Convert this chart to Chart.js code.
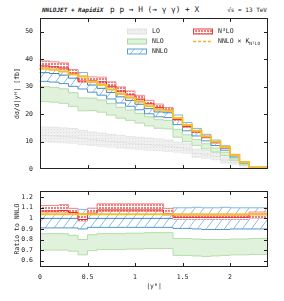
<!DOCTYPE html>
<html>
<head>
<meta charset="utf-8">
<script src="https://cdn.jsdelivr.net/npm/chart.js@4"></script>
<style>
  body { margin: 0; background: #fff; width: 284px; height: 301px; position: relative; overflow: hidden; font-family: "DejaVu Sans Mono", monospace; }
  canvas { position: absolute; left: 0; }
  #top { top: 0; }
  #bottom { top: 180px; }
  .hdr { position: absolute; top: 5px; color: #222; white-space: nowrap; line-height: 10px; }
</style>
</head>
<body>
<div class="hdr" style="left:42px; font-size:6px; font-weight:bold; font-style:italic;">NNLOJET + RapidiX</div>
<div class="hdr" style="left:110px; font-size:7.8px;">p p → H (→ γ γ) + X</div>
<div class="hdr" style="right:17px; font-size:6px;">√s = 13 TeV</div>
<canvas id="top" width="284" height="180"></canvas>
<canvas id="bottom" width="284" height="121"></canvas>
<script>
'use strict';

// bin edges in |y_H| and axis ticks
const binEdges = [0, 0.1, 0.2, 0.3, 0.4, 0.5, 0.6, 0.7, 0.8, 0.9, 1.0, 1.1, 1.2, 1.3, 1.4, 1.5, 1.6, 1.7, 1.8, 1.9, 2.0, 2.1, 2.2, 2.3, 2.4];
const xTicks = [0, 0.5, 1, 1.5, 2];
const yTicksMain = [0, 10, 20, 30, 40, 50];
const yTicksRatio = [0.6, 0.7, 0.8, 0.9, 1, 1.1, 1.2];

// NNLO central value, fb per unit |y|
const nnloCentral = [35.3, 35.1, 34.8, 34.2, 33.1, 32.4, 30.6, 29.4, 27.9, 26.3, 25.0, 23.6, 22.0, 20.8, 20.5, 17.9, 15.4, 13.4, 11.5, 9.6, 7.7, 4.9, 2.5, 0.6];

// LO band (absolute, fb)
const loUp = [15.3, 15.3, 15.2, 15.0, 14.8, 14.1, 13.5, 13.1, 12.6, 12.3, 11.9, 11.6, 11.3, 11.0, 10.6, 9.8, 9.2, 7.3, 6.8, 6.2, 4.4, 3.4, 1.9, 0.5];
const loCentral = [12.2, 12.2, 12.1, 11.9, 11.7, 11.2, 10.7, 10.4, 10.0, 9.7, 9.4, 9.1, 8.9, 8.6, 8.3, 7.9, 7.4, 5.7, 5.2, 4.7, 3.2, 2.4, 1.3, 0.35];
const loDown = [9.9, 9.9, 9.8, 9.6, 9.4, 9.0, 8.6, 8.3, 8.0, 7.7, 7.4, 7.1, 6.9, 6.7, 6.4, 6.2, 5.8, 4.3, 3.9, 3.4, 2.2, 1.6, 0.8, 0.2];

// ratios to NNLO central
const nloUpRatio = [0.855, 0.855, 0.855, 0.855, 0.84, 0.80, 0.845, 0.855, 0.855, 0.855, 0.86, 0.86, 0.865, 0.865, 0.865, 0.81, 0.81, 0.805, 0.80, 0.80, 0.80, 0.805, 0.805, 0.81];
const nloDownRatio = [0.70, 0.70, 0.70, 0.70, 0.69, 0.655, 0.695, 0.705, 0.705, 0.705, 0.71, 0.71, 0.715, 0.715, 0.715, 0.65, 0.65, 0.645, 0.64, 0.645, 0.65, 0.655, 0.655, 0.66];
const nnloUpRatio = [1.085, 1.085, 1.085, 1.085, 1.085, 1.085, 1.085, 1.085, 1.085, 1.085, 1.085, 1.085, 1.09, 1.09, 1.09, 1.10, 1.10, 1.105, 1.10, 1.10, 1.105, 1.10, 1.10, 1.10];
const nnloDownRatio = [0.91, 0.91, 0.91, 0.91, 0.91, 0.90, 0.915, 0.915, 0.915, 0.915, 0.915, 0.915, 0.915, 0.915, 0.915, 0.905, 0.905, 0.90, 0.895, 0.895, 0.895, 0.90, 0.90, 0.90];
const n3loRatio = [1.07, 1.07, 1.07, 1.075, 1.055, 0.99, 1.05, 1.08, 1.08, 1.08, 1.08, 1.08, 1.08, 1.08, 1.045, 1.01, 1.01, 1.01, 1.01, 1.01, 1.01, 1.01, 1.01, 1.035];
const n3loUpRatio = [1.122, 1.122, 1.122, 1.13, 1.095, 1.044, 1.097, 1.138, 1.138, 1.138, 1.138, 1.138, 1.138, 1.138, 1.095, 1.03, 1.03, 1.03, 1.03, 1.03, 1.03, 1.03, 1.03, 1.06];
const n3loDownRatio = [1.058, 1.058, 1.058, 1.06, 1.044, 0.976, 1.035, 1.065, 1.065, 1.065, 1.065, 1.065, 1.065, 1.065, 1.03, 0.99, 0.99, 0.99, 0.99, 0.99, 0.99, 0.99, 0.99, 1.0];
const kRatio = [1.04, 1.04, 1.04, 1.04, 1.04, 1.04, 1.04, 1.04, 1.04, 1.04, 1.04, 1.04, 1.04, 1.04, 1.04, 1.04, 1.04, 1.04, 1.04, 1.04, 1.04, 1.04, 1.04, 1.04];

Chart.defaults.font.family = '"DejaVu Sans Mono", monospace';
Chart.defaults.font.size = 6.5;
Chart.defaults.color = '#222';

// step points: one per bin edge, last edge repeats the last bin value
function steps(vals) {
    return binEdges.map((x, i) => ({ x: x, y: vals[Math.min(i, vals.length - 1)] }));
}
function abs(ratio) {
    return ratio.map((r, i) => r * nnloCentral[i]);
}
function rel(vals) {
    return vals.map((v, i) => v / nnloCentral[i]);
}

function makePattern(w, h, draw) {
    let c = document.createElement('canvas');
    c.width = w; c.height = h;
    let cx = c.getContext('2d');
    draw(cx);
    return c.getContext('2d').createPattern(c, 'repeat');
}
const hatch = makePattern(9, 12, cx => {
    cx.strokeStyle = '#6aaedc';
    cx.lineWidth = 0.8;
    cx.beginPath();
    cx.moveTo(0, 12); cx.lineTo(9, 0);
    cx.stroke();
});
const checker = makePattern(3, 3, cx => {
    cx.fillStyle = '#fff';
    cx.fillRect(0, 0, 3, 3);
    cx.fillStyle = '#ef7d7d';
    cx.fillRect(0, 0, 2, 2);
});
const dots = makePattern(3, 3, cx => {
    cx.fillStyle = '#f0f0f0';
    cx.fillRect(0, 0, 3, 3);
    cx.fillStyle = '#dddddd';
    cx.fillRect(0, 0, 1, 1);
});
const nloFill = 'rgba(186,226,176,0.45)';

function line(data, color, width, extra) {
    return Object.assign({
        data: data,
        borderColor: color,
        borderWidth: width,
        stepped: 'after',
        pointRadius: 0,
        fill: false,
        tension: 0,
        clip: 1
    }, extra || {});
}

// inward ticks + frame, gnuplot style
const frame = {
    id: 'frame',
    afterDraw(chart) {
        const ctx = chart.ctx;
        const a = chart.chartArea;
        const xs = chart.scales.x, ys = chart.scales.y;
        const len = 4;
        ctx.save();
        ctx.strokeStyle = '#222';
        ctx.lineWidth = 1;
        ctx.beginPath();
        xs.ticks.forEach(t => {
            if (t.value <= xs.min || t.value >= xs.max) return;
            let px = Math.round(xs.getPixelForValue(t.value)) + 0.5;
            ctx.moveTo(px, a.bottom); ctx.lineTo(px, a.bottom - len);
            ctx.moveTo(px, a.top); ctx.lineTo(px, a.top + len);
        });
        ys.ticks.forEach(t => {
            if (t.value <= ys.min || t.value >= ys.max) return;
            let py = Math.round(ys.getPixelForValue(t.value)) + 0.5;
            ctx.moveTo(a.left, py); ctx.lineTo(a.left + len, py);
            ctx.moveTo(a.right, py); ctx.lineTo(a.right - len, py);
        });
        ctx.stroke();
        ctx.strokeRect(Math.round(a.left) + 0.5, Math.round(a.top) + 0.5, Math.round(a.right - a.left) - 1, Math.round(a.bottom - a.top) - 1);
        ctx.restore();
    }
};

const legend = {
    id: 'legendBox',
    afterDraw(chart) {
        const ctx = chart.ctx;
        ctx.save();
        ctx.font = '6.5px "DejaVu Sans Mono", monospace';
        ctx.textBaseline = 'middle';
        function box(x, y, fill, stroke) {
            ctx.fillStyle = fill;
            ctx.fillRect(x, y - 2.5, 20, 5);
            ctx.strokeStyle = stroke;
            ctx.lineWidth = 1;
            ctx.strokeRect(x + 0.5, y - 2.5, 19, 5);
        }
        box(127, 31.5, dots, '#e2e2e2');
        box(127, 41.5, nloFill, '#a9d79e');
        box(127, 51.5, hatch, '#5a9fd4');
        box(193, 31.5, checker, '#e53b3b');
        ctx.strokeStyle = '#f0b323';
        ctx.lineWidth = 1.5;
        ctx.setLineDash([3, 2]);
        ctx.beginPath();
        ctx.moveTo(193, 41.5); ctx.lineTo(213, 41.5);
        ctx.stroke();
        ctx.setLineDash([]);
        ctx.fillStyle = '#222';
        ctx.fillText('LO', 152, 31.5);
        ctx.fillText('NLO', 152, 41.5);
        ctx.fillText('NNLO', 152, 51.5);
        ctx.fillText('N³LO', 218, 31.5);
        let t = 'NNLO × K';
        ctx.fillText(t, 218, 41.5);
        let w = ctx.measureText(t).width;
        ctx.font = '4.5px "DejaVu Sans Mono", monospace';
        ctx.fillText('N³LO', 218 + w, 43.5);
        ctx.restore();
    }
};

function fixTicks(list) {
    return function(scale) {
        scale.ticks = list.map(v => ({ value: v }));
    };
}

const topChart = new Chart(document.getElementById('top'), {
    type: 'line',
    data: {
        datasets: [
            line(steps(abs(kRatio)), '#f5bf2a', 2),
            line(steps(abs(n3loRatio)), '#e3262b', 1),
            line(steps(abs(n3loUpRatio)), '#f08c8c', 1, { fill: '+1', backgroundColor: checker }),
            line(steps(abs(n3loDownRatio)), '#f08c8c', 1),
            line(steps(nnloCentral), '#3d85c6', 1),
            line(steps(abs(nnloUpRatio)), '#7fb8e0', 1, { fill: '+1', backgroundColor: hatch }),
            line(steps(abs(nnloDownRatio)), '#4f95cc', 1),
            line(steps(abs(nloUpRatio)), '#b4dcaa', 1, { fill: '+1', backgroundColor: nloFill }),
            line(steps(abs(nloDownRatio)), '#b4dcaa', 1),
            line(steps(loCentral), '#d6d6d6', 1, { borderDash: [1, 1] }),
            line(steps(loUp), '#e6e6e6', 1, { fill: '+1', backgroundColor: dots }),
            line(steps(loDown), '#e6e6e6', 1)
        ]
    },
    options: {
        responsive: false,
        animation: false,
        events: [],
        layout: { padding: { top: 18, right: 16, left: 0, bottom: 0 } },
        plugins: { legend: { display: false }, tooltip: { enabled: false } },
        scales: {
            x: {
                type: 'linear', min: 0, max: 2.4,
                afterBuildTicks: fixTicks(xTicks),
                ticks: { display: false },
                grid: { display: false, drawTicks: false },
                border: { display: false },
                afterFit(s) { s.height = 6; }
            },
            y: {
                type: 'linear', min: 0, max: 55,
                afterBuildTicks: fixTicks(yTicksMain),
                ticks: { padding: 7, callback: v => String(v) },
                grid: { display: false, drawTicks: false },
                border: { display: false },
                title: { display: true, text: 'dσ/d|yᴴ| [fb]', padding: { top: 13, bottom: 0 } },
                afterFit(s) { s.width = 40; }
            }
        }
    },
    plugins: [frame, legend]
});

const ratioChart = new Chart(document.getElementById('bottom'), {
    type: 'line',
    data: {
        datasets: [
            line(steps(kRatio), '#f5bf2a', 2),
            line(steps(n3loRatio), '#e3262b', 1),
            line(steps(n3loUpRatio), '#f08c8c', 1, { fill: '+1', backgroundColor: checker }),
            line(steps(n3loDownRatio), '#f08c8c', 1),
            line(steps(rel(nnloCentral)), '#3d85c6', 1),
            line(steps(nnloUpRatio), '#7fb8e0', 1, { fill: '+1', backgroundColor: hatch }),
            line(steps(nnloDownRatio), '#4f95cc', 1),
            line(steps(nloUpRatio), '#b4dcaa', 1, { fill: '+1', backgroundColor: nloFill }),
            line(steps(nloDownRatio), '#b4dcaa', 1)
        ]
    },
    options: {
        responsive: false,
        animation: false,
        events: [],
        layout: { padding: { top: 6, right: 16, left: 0, bottom: 0 } },
        plugins: { legend: { display: false }, tooltip: { enabled: false } },
        scales: {
            x: {
                type: 'linear', min: 0, max: 2.4,
                afterBuildTicks: fixTicks(xTicks),
                ticks: { padding: 6, maxRotation: 0, autoSkip: false, callback: v => String(v) },
                grid: { display: false, drawTicks: false },
                border: { display: false },
                title: { display: true, text: '|yᴴ|', padding: { top: 0, bottom: 11 } },
                afterFit(s) { s.height = 34; }
            },
            y: {
                type: 'linear', min: 0.54, max: 1.26,
                afterBuildTicks: fixTicks(yTicksRatio),
                ticks: { padding: 7, callback: v => String(v) },
                grid: { display: false, drawTicks: false },
                border: { display: false },
                title: { display: true, text: 'Ratio to NNLO', padding: { top: 13, bottom: 0 } },
                afterFit(s) { s.width = 40; }
            }
        }
    },
    plugins: [frame]
});
</script>
</body>
</html>
